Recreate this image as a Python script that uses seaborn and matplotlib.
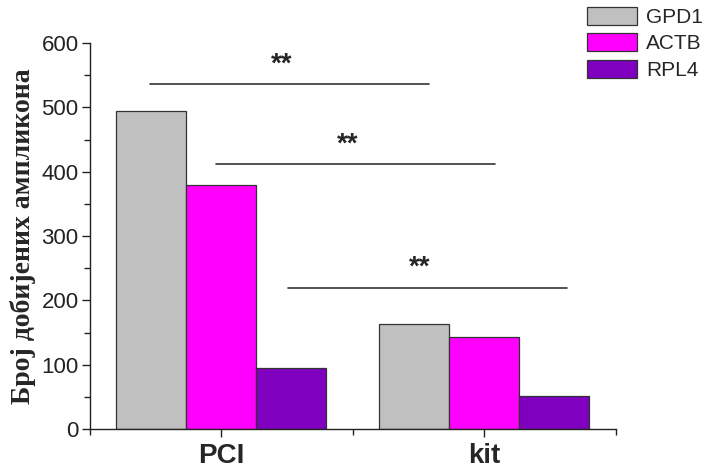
import pandas as pd
import matplotlib
matplotlib.use("Agg")
import matplotlib.pyplot as plt
from matplotlib.ticker import MultipleLocator
import seaborn as sns

# data
methods = ["PCI", "kit"]
genes = ["GPD1", "ACTB", "RPL4"]
gpd1 = [495, 163]
actb = [380, 143]
rpl4 = [95, 51]
colors = ["#C0C0C0", "#FF00FF", "#7F00BF"]

# significance brackets: (x start, x end, y level)
sig_x0 = [-0.27, -0.02, 0.255]
sig_x1 = [0.79, 1.04, 1.315]
sig_y = [536, 412, 220]
sig_text = ["**", "**", "**"]

df = pd.DataFrame({
    "method": methods * 3,
    "gene": [g for g in genes for _ in methods],
    "count": gpd1 + actb + rpl4,
})

sns.set_style("ticks")
plt.rcParams["font.family"] = ["Liberation Sans", "DejaVu Sans"]

fig = plt.figure(figsize=(7.07, 4.70), dpi=100)
ax = fig.add_axes([0.127, 0.087, 0.744, 0.8215])

sns.barplot(data=df, x="method", y="count", hue="gene", palette=colors,
            width=0.8, edgecolor="#333333", linewidth=0.9, saturation=1,
            errorbar=None, ax=ax)

ax.set_xlim(-0.5, 1.5)
ax.set_ylim(0, 600)
ax.yaxis.set_major_locator(MultipleLocator(100))
ax.yaxis.set_minor_locator(MultipleLocator(50))
ax.xaxis.set_minor_locator(MultipleLocator(0.5))
sns.despine(ax=ax)
for sp in ["left", "bottom"]:
    ax.spines[sp].set_linewidth(1.0)
    ax.spines[sp].set_color("#222222")
ax.tick_params(axis="both", which="major", length=6, width=1, color="#222222")
ax.tick_params(axis="both", which="minor", length=4, width=1, color="#222222")
ax.tick_params(axis="y", labelsize=16, labelcolor="#222222", pad=2)
ax.tick_params(axis="x", labelsize=20, pad=4)
for t in ax.get_xticklabels():
    t.set_fontweight("bold")

ax.set_xlabel("")
ax.set_ylabel("Број добијених ампликона", fontsize=20, fontweight="bold",
              family=["Liberation Serif", "DejaVu Serif"], labelpad=4)

for x0, x1, y, s in zip(sig_x0, sig_x1, sig_y, sig_text):
    ax.plot([x0, x1], [y, y], color="#333333", lw=1.2, clip_on=False)
    ax.text((x0 + x1) / 2 - 0.03, y + 10, s, ha="center", va="bottom",
            fontsize=20, fontweight="bold")

handles, labels = ax.get_legend_handles_labels()
ax.legend_.remove()
fig.legend(handles, labels, loc="upper right", bbox_to_anchor=(1.012, 1.012),
           frameon=False, fontsize=15, handlelength=2.4, handleheight=0.95,
           labelspacing=0.3, handletextpad=0.45, borderaxespad=0.2)

fig.savefig("out.png", dpi=100)
